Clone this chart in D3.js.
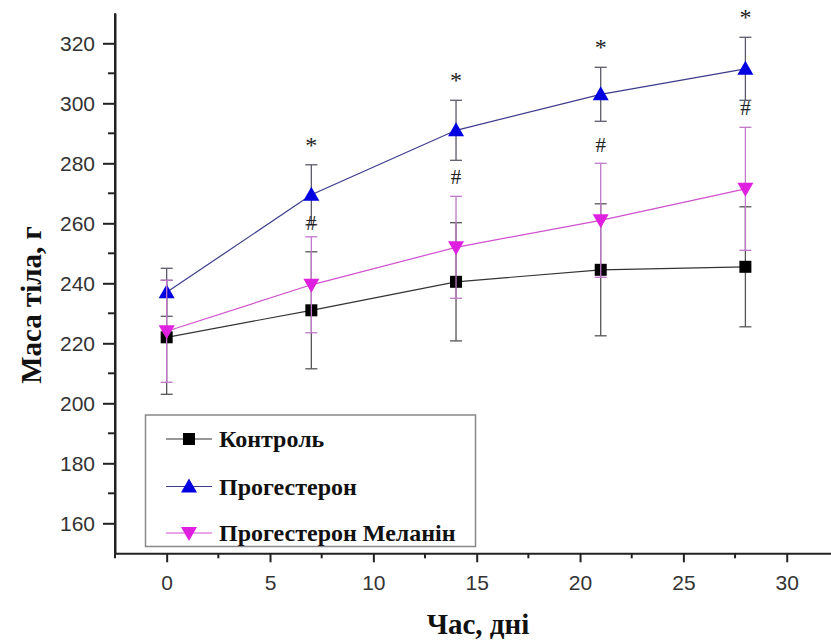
<!DOCTYPE html>
<html>
<head>
<meta charset="utf-8">
<script src="https://cdnjs.cloudflare.com/ajax/libs/d3/7.8.5/d3.min.js"></script>
<style>
  body { margin: 0; background: #fff; }
  svg { display: block; }
</style>
</head>
<body>
<div id="chart"></div>
<script>
// days of measurement
const days = [0, 7, 14, 21, 28];

// body mass, g (mean and SD)
const control = [222, 231, 240.5, 244.5, 245.5];
const controlSd = [19, 19.5, 19.7, 22, 20];
const progesterone = [237, 269.5, 291, 303, 311.5];
const progesteroneSd = [8, 10, 10, 9, 10.5];
const progMelanin = [224, 239.5, 252, 261, 271.5];
const progMelaninSd = [17, 16, 17, 19, 20.5];

// significance marks
const starDays = [7, 14, 21, 28];
const hashDays = [7, 14, 21, 28];
const hashAt = [260, 275.5, 286, 298.5];

const seriesNames = ['Контроль', 'Прогестерон', 'Прогестерон Меланін'];
const xTicks = [0, 5, 10, 15, 20, 25, 30];
const yTicks = [160, 180, 200, 220, 240, 260, 280, 300, 320];

const width = 831, height = 643;

const svg = d3.select('#chart').append('svg')
  .attr('width', width)
  .attr('height', height);

const x = d3.scaleLinear().domain([-2.5, 32.5]).range([115, 838.4]);
const y = d3.scaleLinear().domain([150, 330]).range([553.3, 13.3]);

const series = [
  {name: seriesNames[0], v: control, sd: controlSd, color: '#000', line: '#333', bar: '#555', shape: 'square'},
  {name: seriesNames[1], v: progesterone, sd: progesteroneSd, color: '#0000e0', line: '#3c3c8c', bar: '#5a5a6a', shape: 'up'},
  {name: seriesNames[2], v: progMelanin, sd: progMelaninSd, color: '#e020e0', line: '#d050d0', bar: '#c078c8', shape: 'down'}
];

function marker(g, shape, cx, cy, color){
  if(shape === 'square'){
    g.append('rect')
      .attr('x', cx - 6).attr('y', cy - 6)
      .attr('width', 12).attr('height', 12)
      .attr('fill', color);
  } else if(shape === 'up'){
    g.append('path')
      .attr('d', `M${cx},${cy-8} L${cx+8},${cy+6} L${cx-8},${cy+6} Z`)
      .attr('fill', color);
  } else {
    g.append('path')
      .attr('d', `M${cx},${cy+8} L${cx+8},${cy-6} L${cx-8},${cy-6} Z`)
      .attr('fill', color);
  }
}

const line = d3.line()
  .x((d, i) => x(days[i]))
  .y(d => y(d));

// lines
series.forEach(function(s){
  svg.append('path')
    .attr('d', line(s.v))
    .attr('fill', 'none')
    .attr('stroke', s.line)
    .attr('stroke-width', 1.2);
});

// error bars + markers
series.forEach(function(s){
  let g = svg.append('g');
  s.v.forEach(function(v, i){
    let cx = x(days[i]);
    let y0 = y(v - s.sd[i]), y1 = y(v + s.sd[i]);
    g.append('line')
      .attr('x1', cx).attr('x2', cx).attr('y1', y0).attr('y2', y1)
      .attr('stroke', s.bar).attr('stroke-width', 1.3);
    [y0, y1].forEach(function(yy){
      g.append('line')
        .attr('x1', cx - 6).attr('x2', cx + 6).attr('y1', yy).attr('y2', yy)
        .attr('stroke', s.bar).attr('stroke-width', 1.3);
    });
  });
  s.v.forEach(function(v, i){
    marker(g, s.shape, x(days[i]), y(v), s.color);
  });
});

// significance marks
starDays.forEach(function(d){
  let i = days.indexOf(d);
  svg.append('text')
    .attr('x', x(d)).attr('y', y(progesterone[i] + progesteroneSd[i]) - 12)
    .attr('text-anchor', 'middle')
    .attr('font-family', 'Liberation Serif, serif')
    .attr('font-size', 24)
    .attr('fill', '#222')
    .text('*');
});
hashDays.forEach(function(d, i){
  svg.append('text')
    .attr('x', x(d)).attr('y', y(hashAt[i]) + 7)
    .attr('text-anchor', 'middle')
    .attr('font-family', 'Liberation Serif, serif')
    .attr('font-size', 21)
    .attr('fill', '#222')
    .text('#');
});

// axes
let yAxis = svg.append('g').attr('transform', 'translate(115,0)')
  .call(d3.axisLeft(y).tickValues(yTicks).tickSize(12).tickSizeOuter(0));
yAxis.select('.domain').attr('stroke', '#222').attr('stroke-width', 2);
yAxis.selectAll('.tick line').attr('stroke', '#222').attr('stroke-width', 2);
yAxis.selectAll('.tick text')
  .attr('x', -20)
  .attr('font-family', 'Liberation Sans, Arial, sans-serif')
  .attr('font-size', 21)
  .attr('fill', '#333');
yAxis.selectAll('.minor').data(d3.range(170, 330, 20)).enter()
  .append('line').attr('class', 'minor')
  .attr('x1', -7).attr('x2', 0)
  .attr('y1', d => y(d)).attr('y2', d => y(d))
  .attr('stroke', '#222').attr('stroke-width', 2);
svg.append('line')
  .attr('x1', 115).attr('x2', 115).attr('y1', y(150)).attr('y2', y(330))
  .attr('stroke', '#222').attr('stroke-width', 2);

let xAxis = svg.append('g').attr('transform', `translate(0,${y(150)})`)
  .call(d3.axisBottom(x).tickValues(xTicks).tickSize(9).tickSizeOuter(0));
xAxis.select('.domain').attr('stroke', '#222').attr('stroke-width', 2);
xAxis.selectAll('.tick line').attr('stroke', '#222').attr('stroke-width', 2);
xAxis.selectAll('.tick text')
  .attr('y', 22)
  .attr('font-family', 'Liberation Sans, Arial, sans-serif')
  .attr('font-size', 21)
  .attr('fill', '#333');
xAxis.selectAll('.minor').data(d3.range(-2.5, 33, 5)).enter()
  .append('line').attr('class', 'minor')
  .attr('x1', d => x(d)).attr('x2', d => x(d))
  .attr('y1', 0).attr('y2', 5)
  .attr('stroke', '#222').attr('stroke-width', 2);

// axis titles
svg.append('text')
  .attr('transform', 'translate(41,305) rotate(-90)')
  .attr('text-anchor', 'middle')
  .attr('font-family', 'Liberation Serif, serif')
  .attr('font-weight', 'bold')
  .attr('font-size', 29)
  .attr('fill', '#111')
  .text('Маса тіла, г');
svg.append('text')
  .attr('x', 478).attr('y', 634)
  .attr('text-anchor', 'middle')
  .attr('font-family', 'Liberation Serif, serif')
  .attr('font-weight', 'bold')
  .attr('font-size', 29)
  .attr('fill', '#111')
  .text('Час, дні');

// legend
let leg = svg.append('g');
leg.append('rect')
  .attr('x', 145.5).attr('y', 415)
  .attr('width', 330).attr('height', 131.5)
  .attr('fill', '#fff')
  .attr('stroke', '#888').attr('stroke-width', 1.5);
const legRows = [439, 486.5, 533];
series.forEach(function(s, i){
  let ly = legRows[i];
  leg.append('line')
    .attr('x1', 166).attr('x2', 212).attr('y1', ly).attr('y2', ly)
    .attr('stroke', s.line).attr('stroke-width', 1.2);
  marker(leg, s.shape, 189, ly, s.color);
  leg.append('text')
    .attr('x', 219).attr('y', ly + 8)
    .attr('font-family', 'Liberation Serif, serif')
    .attr('font-weight', 'bold')
    .attr('font-size', 24)
    .attr('fill', '#111')
    .text(s.name);
});
</script>
</body>
</html>
